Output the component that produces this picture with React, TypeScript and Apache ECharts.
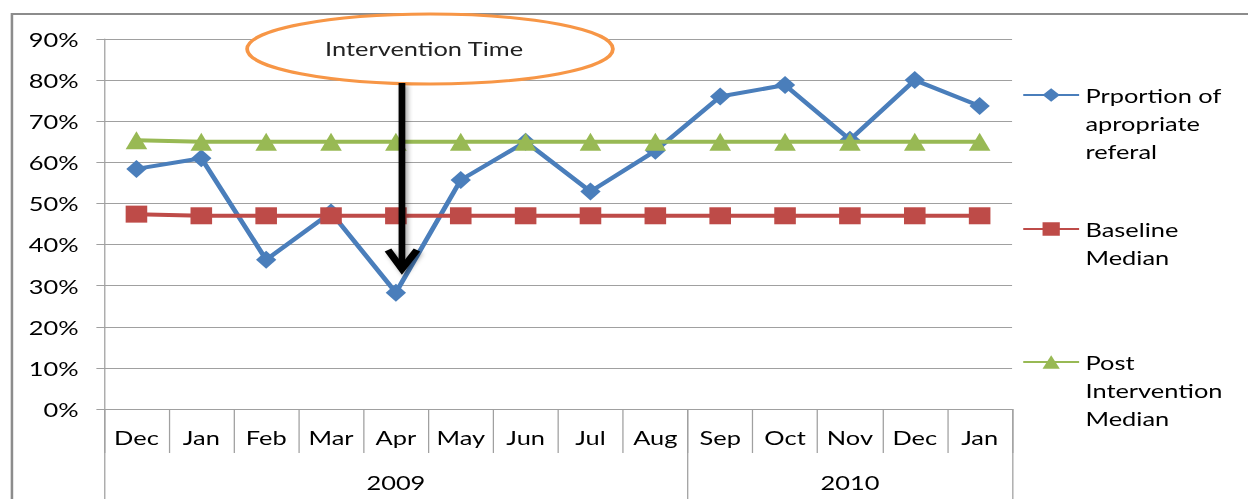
import React, { useEffect, useRef } from "react";
import * as echarts from "echarts";

// ---- data ----
const months = ["Dec", "Jan", "Feb", "Mar", "Apr", "May", "Jun", "Jul", "Aug", "Sep", "Oct", "Nov", "Dec", "Jan"];
const referral = [58.4, 61, 36.3, 47.8, 28.3, 55.7, 65, 52.9, 62.8, 76, 78.8, 65.5, 80, 73.7];
const baseline = [47.4, 47, 47, 47, 47, 47, 47, 47, 47, 47, 47, 47, 47, 47];
const postMedian = [65.4, 65, 65, 65, 65, 65, 65, 65, 65, 65, 65, 65, 65, 65];
const seriesNames = ["Prportion of apropriate referal", "Baseline Median", "Post Intervention Median"];
const legendLines = [
  ["Prportion of", "apropriate", "referal"],
  ["Baseline", "Median"],
  ["Post", "Intervention", "Median"],
];
const yearLabels = ["2009", "2010"];
const yearMonthCounts = [9, 5];
const yTicks = { min: 0, max: 90, interval: 10 };
const annotationText = "Intervention Time";

// ---- styles ----
const S = 1.27; // horizontal stretch of the reference picture
const W = Math.round(1248 / S);
const H = 499;
const FONT = "Lato";
const TEXT = "#000000";
const GRID = "#a0a0a0";
const BORDER = "#8c8c8c";
const BLUE = "#4A7EBB";
const RED = "#BE4B48";
const GREEN = "#98B954";
const ORANGE = "#F79646";
const LEGEND_ICON_Y = [95, 229, 362];
const LINE_H = 28;

const yearBounds: number[] = [0];
yearMonthCounts.forEach((c, i) => yearBounds.push(yearBounds[i] + c));
const yearCenters = yearLabels.map((_, i) => (yearBounds[i] + yearBounds[i + 1]) / 2);

function buildOption() {
  const colors = [BLUE, RED, GREEN];
  const symbols = ["diamond", "rect", "triangle"];
  const sizes: any[] = [[16, 18], 17, [17, 18]];
  const datas = [referral, baseline, postMedian];

  const legends = seriesNames.map((name, i) => {
    const n = legendLines[i].length;
    // blank lines in front so that the first real line sits level with the icon
    const label = "\n".repeat(n - 1) + legendLines[i].join("\n");
    return {
      data: [name],
      orient: "vertical",
      left: 804.7,
      top: LEGEND_ICON_Y[i] - (LINE_H / 2) * (2 * n - 1),
      padding: 0,
      itemWidth: 44,
      itemHeight: 17,
      itemGap: 0,
      selectedMode: false,
      formatter: () => label,
      textStyle: {
        fontFamily: FONT,
        fontSize: 20,
        color: TEXT,
        lineHeight: LINE_H,
      },
    };
  });

  return {
    animation: false,
    textStyle: { fontFamily: FONT, color: TEXT },
    grid: { left: 81.9, top: 39, width: 715, height: 370, containLabel: false },
    legend: legends,
    xAxis: [
      {
        type: "category",
        data: months,
        position: "bottom",
        boundaryGap: true,
        axisLine: { show: true, lineStyle: { color: GRID, width: 1 } },
        axisTick: { show: true, interval: 0, alignWithLabel: false, length: 44, lineStyle: { color: GRID, width: 1 } },
        axisLabel: { interval: 0, margin: 18, fontSize: 20, fontFamily: FONT, color: TEXT },
        splitLine: { show: false },
      },
      {
        type: "value",
        min: 0,
        max: yearBounds[yearBounds.length - 1],
        position: "bottom",
        axisLine: { show: false },
        splitLine: { show: false },
        axisTick: { show: true, customValues: yearBounds, length: 90, lineStyle: { color: GRID, width: 1 } },
        axisLabel: {
          customValues: yearCenters,
          margin: 63,
          fontSize: 20,
          fontFamily: FONT,
          color: TEXT,
          formatter: (v: number) => {
            for (let i = 0; i < yearLabels.length; i++) {
              if (v >= yearBounds[i] && v < yearBounds[i + 1]) return yearLabels[i];
            }
            return "";
          },
        },
      },
    ],
    yAxis: {
      type: "value",
      min: yTicks.min,
      max: yTicks.max,
      interval: yTicks.interval,
      axisLine: { show: true, lineStyle: { color: GRID, width: 1 } },
      axisTick: { show: true, length: 6, lineStyle: { color: GRID, width: 1 } },
      axisLabel: { formatter: "{value}%", margin: 20, fontSize: 20, fontFamily: FONT, color: TEXT },
      splitLine: { show: true, lineStyle: { color: GRID, width: 1 } },
    },
    series: seriesNames.map((name, i) => ({
      name,
      type: "line",
      xAxisIndex: 0,
      data: datas[i],
      symbol: symbols[i],
      symbolSize: sizes[i],
      showAllSymbol: true,
      z: 2 + i,
      itemStyle: { color: colors[i] },
      lineStyle: { color: colors[i], width: 4 },
    })),
    graphic: [
      {
        type: "rect",
        silent: true,
        z: 50,
        shape: { x: 9.4, y: 14, width: 2000, height: 1000 },
        style: { fill: "none", stroke: BORDER, lineWidth: 2 },
      },
      {
        type: "ellipse",
        silent: true,
        z: 100,
        shape: { cx: 338.6, cy: 49, rx: 144, ry: 35 },
        style: { fill: "#ffffff", stroke: ORANGE, lineWidth: 3 },
      },
      {
        type: "text",
        silent: true,
        z: 101,
        x: 333.9,
        y: 48,
        style: {
          text: annotationText,
          fontFamily: FONT,
          fontSize: 20,
          fill: "#222222",
          align: "center",
          verticalAlign: "middle",
        },
      },
      {
        type: "rect",
        silent: true,
        z: 102,
        shape: { x: 316.5 - 2.65, y: 83, width: 5.3, height: 183 },
        style: {
          fill: "#000000",
          shadowBlur: 4,
          shadowColor: "rgba(0,0,0,0.35)",
          shadowOffsetX: 2,
          shadowOffsetY: 2,
        },
      },
      {
        type: "polyline",
        silent: true,
        z: 102,
        shape: { points: [[305.5, 250], [316.5, 269], [328.3, 250]] },
        style: {
          stroke: "#000000",
          fill: null,
          lineWidth: 6,
          lineJoin: "miter",
          shadowBlur: 4,
          shadowColor: "rgba(0,0,0,0.35)",
          shadowOffsetX: 2,
          shadowOffsetY: 2,
        },
      },
    ],
  };
}

export default function App() {
  const ref = useRef<HTMLDivElement>(null);
  useEffect(() => {
    if (!ref.current) return;
    const chart = echarts.init(ref.current, null, { renderer: "svg" });
    chart.setOption(buildOption() as any);
    return () => chart.dispose();
  }, []);
  return (
    <div
      ref={ref}
      style={{
        position: "fixed",
        left: 0,
        top: 0,
        width: W,
        height: H,
        background: "#ffffff",
        transform: `scaleX(${S})`,
        transformOrigin: "0 0",
      }}
    />
  );
}
